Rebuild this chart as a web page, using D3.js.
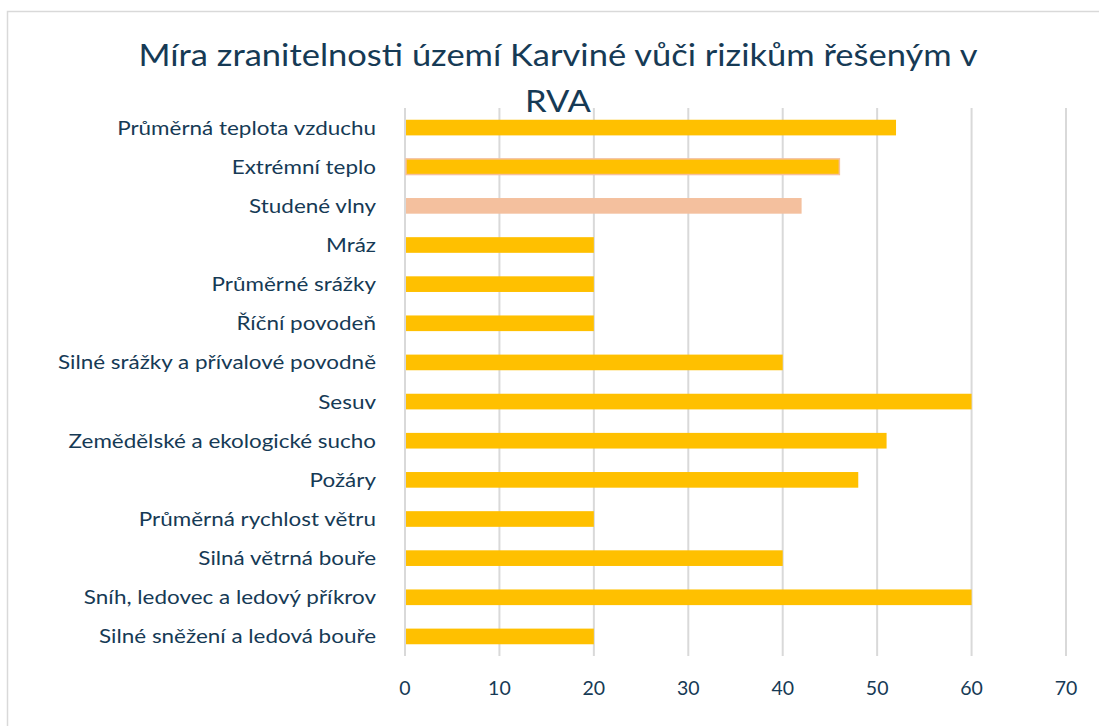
<!DOCTYPE html>
<html>
<head>
<meta charset="utf-8">
<script src="https://cdn.jsdelivr.net/npm/d3@7"></script>
<style>
  html, body { margin: 0; padding: 0; background: #fff; }
  svg { display: block; font-family: Lato, "Open Sans", sans-serif; }
</style>
</head>
<body>
<svg id="chart" width="1099" height="726"></svg>
<script>
// Risk categories, top to bottom
const categories = [
  "Průměrná teplota vzduchu",
  "Extrémní teplo",
  "Studené vlny",
  "Mráz",
  "Průměrné srážky",
  "Říční povodeň",
  "Silné srážky a přívalové povodně",
  "Sesuv",
  "Zemědělské a ekologické sucho",
  "Požáry",
  "Průměrná rychlost větru",
  "Silná větrná bouře",
  "Sníh, ledovec a ledový příkrov",
  "Silné sněžení a ledová bouře"
];
// Vulnerability score per risk
const values = [52, 46, 42, 20, 20, 20, 40, 60, 51, 48, 20, 40, 60, 20];
// Fill style per bar: "y" yellow, "yo" yellow with salmon outline, "s" salmon
const fillKinds = ["y", "yo", "s", "y", "y", "y", "y", "y", "y", "y", "y", "y", "y", "y"];
const xTicks = [0, 10, 20, 30, 40, 50, 60, 70];
const titleLines = ["Míra zranitelnosti území Karviné vůči rizikům řešeným v", "RVA"];

const svg = d3.select("#chart");
const textColor = "#163a55";
const gridColor = "#d9d9d9";
const yellow = "#FFC000";
const salmon = "#F4C09E";

// chart frame
svg.append("rect")
  .attr("x", 7.5).attr("y", 11.5)
  .attr("width", 1120).attr("height", 760)
  .attr("fill", "none").attr("stroke", gridColor).attr("stroke-width", 1.5);

const x = d3.scaleLinear().domain([0, 70]).range([405, 1066]);
const y = d3.scaleBand().domain(categories).range([108, 656])
  .paddingInner(0.6).paddingOuter(0.3);

// vertical gridlines
svg.append("g").selectAll("line").data(xTicks).join("line")
  .attr("x1", d => x(d)).attr("x2", d => x(d))
  .attr("y1", 108).attr("y2", 656)
  .attr("stroke", gridColor).attr("stroke-width", 2);

// bars
svg.append("g").selectAll("rect").data(categories).join("rect")
  .attr("x", x(0) + 1)
  .attr("y", d => y(d))
  .attr("width", (d, i) => x(values[i]) - x(0) - 1)
  .attr("height", y.bandwidth())
  .attr("fill", (d, i) => fillKinds[i] === "s" ? salmon : yellow)
  .attr("stroke", (d, i) => fillKinds[i] === "yo" ? salmon : "none")
  .attr("stroke-width", 1.5);

// category labels, slightly condensed
const labelSize = 19.5;
const labels = svg.append("g").selectAll("text").data(categories).join("text")
  .attr("x", 376)
  .attr("y", d => y(d) + y.bandwidth() / 2)
  .attr("dy", "0.36em")
  .attr("text-anchor", "end")
  .attr("fill", textColor)
  .attr("font-size", labelSize)
  .text(d => d);
{
  let maxW = 0;
  const widths = [];
  labels.each(function () {
    const w = this.getComputedTextLength();
    widths.push(w);
    maxW = Math.max(maxW, w);
  });
  const k = 318 / maxW;
  labels.attr("textLength", (d, i) => widths[i] * k)
        .attr("lengthAdjust", "spacingAndGlyphs");
}

// x axis tick labels
svg.append("g").selectAll("text").data(xTicks).join("text")
  .attr("x", d => x(d))
  .attr("y", 695)
  .attr("text-anchor", "middle")
  .attr("fill", textColor)
  .attr("font-size", 19.5)
  .text(d => d);

// title, two lines
const title = svg.append("g").selectAll("text").data(titleLines).join("text")
  .attr("x", 558)
  .attr("y", (d, i) => 66 + i * 46)
  .attr("text-anchor", "middle")
  .attr("fill", textColor)
  .attr("font-size", 30)
  .text(d => d);
{
  const nodes = title.nodes();
  const k = 839 / nodes[0].getComputedTextLength();
  title.each(function () {
    d3.select(this)
      .attr("textLength", this.getComputedTextLength() * k)
      .attr("lengthAdjust", "spacingAndGlyphs");
  });
}
</script>
</body>
</html>
